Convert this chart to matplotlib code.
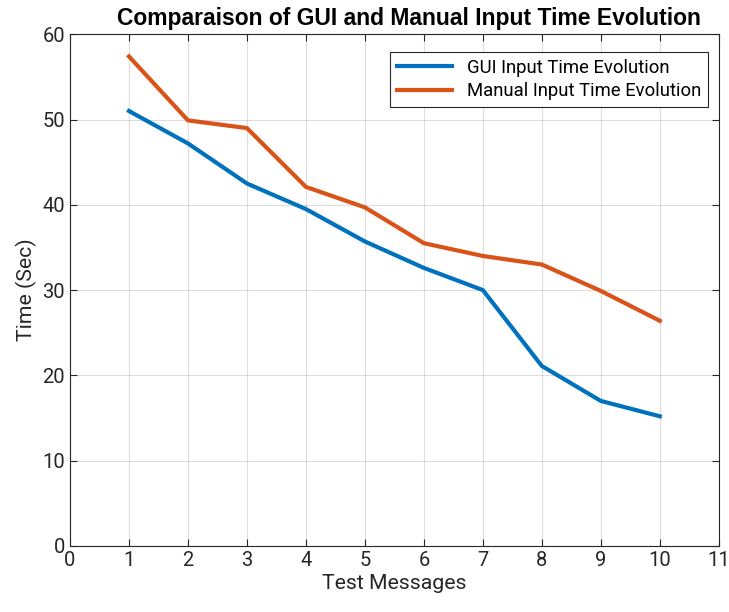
import matplotlib
matplotlib.use("Agg")
import matplotlib.pyplot as plt

# Datos
mensajes = [1, 2, 3, 4, 5, 6, 7, 8, 9, 10]
tiempo_gui = [51.0, 47.2, 42.5, 39.5, 35.7, 32.6, 30.0, 21.1, 17.0, 15.2]
tiempo_manual = [57.4, 49.9, 49.0, 42.1, 39.7, 35.5, 34.0, 33.0, 29.9, 26.4]

x_ticks = list(range(0, 12))
y_ticks = [0, 10, 20, 30, 40, 50, 60]

plt.rcParams['font.family'] = ['Roboto', 'DejaVu Sans']

fig = plt.figure(figsize=(7.29, 6.12), dpi=100)
ax = fig.add_axes([0.096, 0.108, 0.890, 0.836])

ax.plot(mensajes, tiempo_gui, color='#0072BD', linewidth=3, label='GUI Input Time Evolution')
ax.plot(mensajes, tiempo_manual, color='#D95319', linewidth=3, label='Manual Input Time Evolution')

ax.set_xlim(0, 11)
ax.set_ylim(0, 60)
ax.set_xticks(x_ticks)
ax.set_yticks(y_ticks)
ax.grid(True, color='#262626', alpha=0.15, linewidth=0.8)
ax.tick_params(direction='in', top=True, right=True, labelsize=14.5, colors='#262626', length=5)
for s in ax.spines.values():
    s.set_color('#262626')
    s.set_linewidth(0.8)

ax.set_xlabel('Test Messages', fontsize=15.3, color='#262626', labelpad=3)
ax.set_ylabel('Time (Sec)', fontsize=15.3, color='#262626')
ax.set_title('Comparaison of GUI and Manual Input Time Evolution', fontsize=16.5, fontweight='bold',
             family='Liberation Sans', pad=7, x=0.522)

leg = ax.legend(loc='upper right', bbox_to_anchor=(0.983, 0.965), borderaxespad=0, fontsize=13.3,
                fancybox=False, edgecolor='#262626', framealpha=1, handlelength=3.0,
                borderpad=0.35, labelspacing=0.3)
leg.get_frame().set_linewidth(0.8)

plt.savefig('out.png', dpi=100)
